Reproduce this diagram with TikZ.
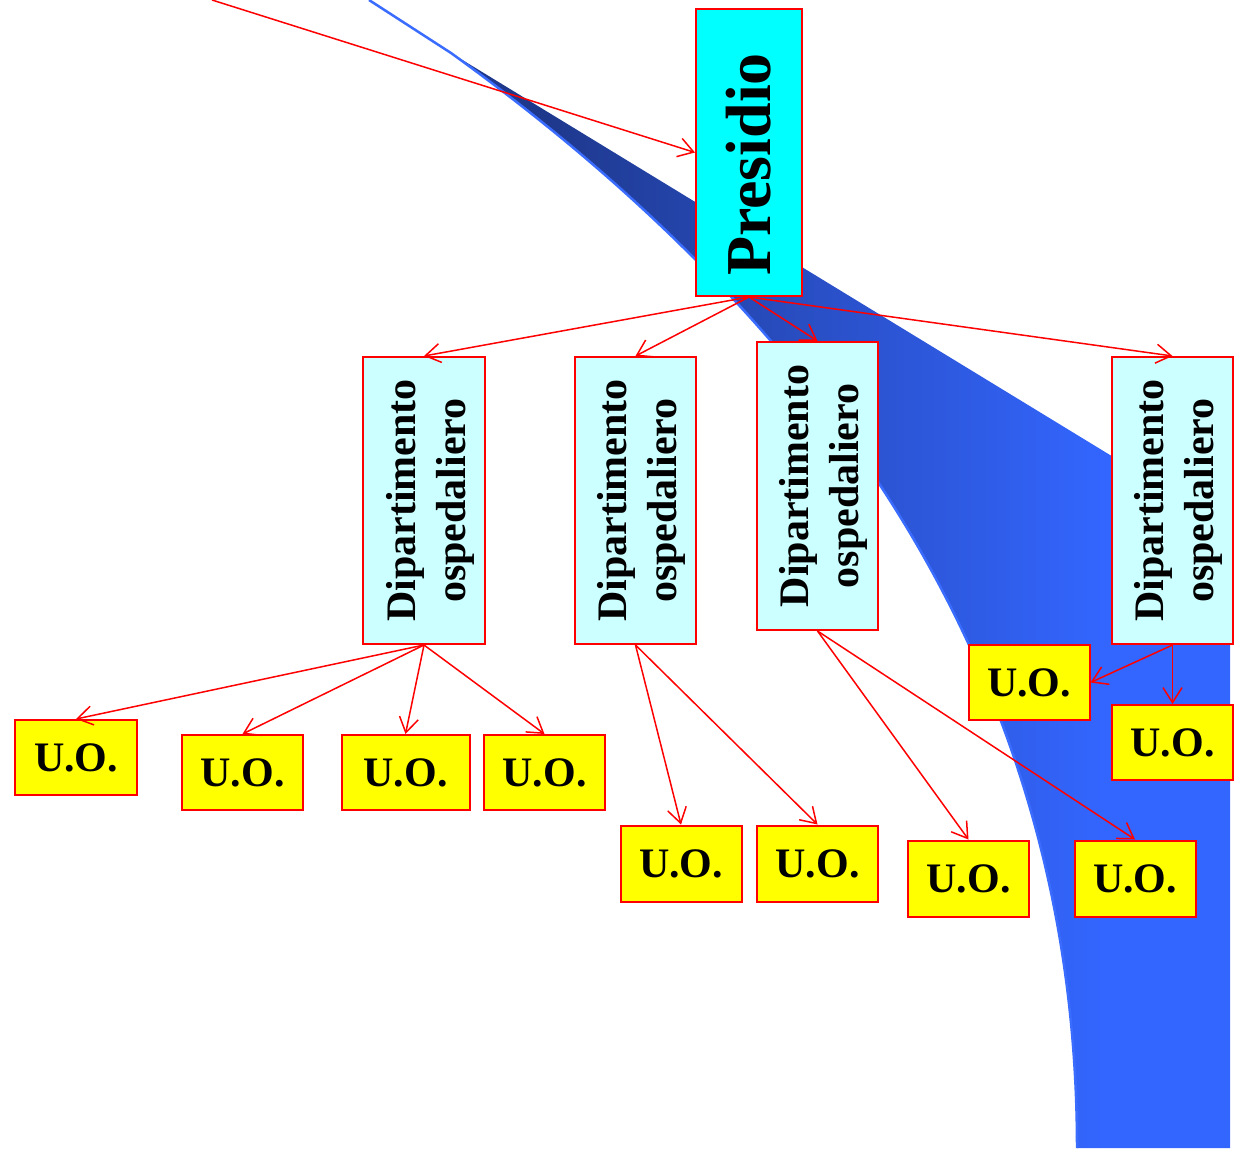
\documentclass[tikz,border=0pt]{standalone}
\usepackage{fontspec}
\setmainfont{Liberation Serif}
\usetikzlibrary{arrows.meta}
\definecolor{sw1}{RGB}{30,56,140}
\definecolor{sw2}{RGB}{42,80,200}
\definecolor{sw3}{RGB}{51,102,255}
\definecolor{rimblue}{RGB}{58,108,255}
\definecolor{pcyan}{RGB}{0,255,255}
\definecolor{lcyan}{RGB}{204,255,255}
\definecolor{uoyellow}{RGB}{255,255,0}
\definecolor{bred}{RGB}{255,0,0}
\pgfdeclarehorizontalshading{swoosh}{100bp}{color(0bp)=(sw1); color(31bp)=(sw1); color(49bp)=(sw2); color(67bp)=(sw3); color(100bp)=(sw3)}
\newcommand{\diptext}{\hspace*{12pt}\rotatebox{90}{\begin{tabular}{@{}c@{}}Dipartimento\\ospedaliero\end{tabular}}}
\begin{document}
\begin{tikzpicture}[x=1pt,y=-1pt,
  box/.style={draw=bred, line width=2pt, rectangle, inner sep=0pt, font=\bfseries\fontsize{42}{50}\selectfont},
  presbox/.style={box, fill=pcyan, minimum width=106pt, minimum height=287pt, font=\bfseries\fontsize{64}{72}\selectfont},
  dipbox/.style={box, fill=lcyan, minimum width=121pt, minimum height=287pt},
  uobox/.style={box, fill=uoyellow, minimum width=121pt, minimum height=75pt},
  arr/.style={draw=bred, line width=1.5pt, -{Straight Barb[length=15pt,width=19pt]}},
]
\useasboundingbox (0,0) rectangle (1236,1148);

% blue swoosh
\shade[shading=swoosh] (451,53) -- (1110,455) -- (1230,528) -- (1230,1148) -- (1077,1148)
  .. controls (1077,698) and (851,341) .. (451,53) -- cycle;
\draw[rimblue, line width=2.5pt] (369,0) -- (451,53) .. controls (851,341) and (1077,698) .. (1077,1148);

% nodes
\coordinate (src) at (212,0);
\node[presbox] (pres) at (749,152.5) {\rotatebox{90}{Presidio\hspace{24pt}}};

\node[dipbox, minimum width=122pt] (dip1) at (424,500.5) {\diptext};
\node[dipbox] (dip2) at (635.5,500.5) {\diptext};
\node[dipbox, minimum height=288pt] (dip3) at (817.5,486) {\diptext};
\node[dipbox] (dip4) at (1172.5,500.5) {\diptext};

\node[uobox, minimum width=122pt] (uoa) at (76,757.5) {U.O.};
\node[uobox] (uob) at (242.5,772.5) {U.O.};
\node[uobox, minimum width=128pt] (uoc) at (405.5,772.5) {U.O.};
\node[uobox] (uod) at (544.5,772.5) {U.O.};
\node[uobox, minimum height=76pt] (uoe) at (681,863.5) {U.O.};
\node[uobox, minimum height=76pt] (uof) at (817.5,863.5) {U.O.};
\node[uobox, minimum height=76pt] (uog) at (968.5,878.5) {U.O.};
\node[uobox, minimum height=76pt] (uoh) at (1135,878.5) {U.O.};
\node[uobox] (uoi) at (1029,682.5) {U.O.};
\node[uobox] (uoj) at (1172.5,742.5) {U.O.};

% connectors
\draw[arr] (src) -- (pres.west);
\foreach \d in {dip1,dip2,dip3,dip4} \draw[arr] (pres.south) -- (\d.north);
\foreach \u in {uoa,uob,uoc,uod} \draw[arr] (dip1.south) -- (\u.north);
\foreach \u in {uoe,uof} \draw[arr] (dip2.south) -- (\u.north);
\foreach \u in {uog,uoh} \draw[arr] (dip3.south) -- (\u.north);
\draw[arr] (dip4.south) -- (uoi.east);
\draw[arr] (dip4.south) -- (uoj.north);
\end{tikzpicture}
\end{document}
